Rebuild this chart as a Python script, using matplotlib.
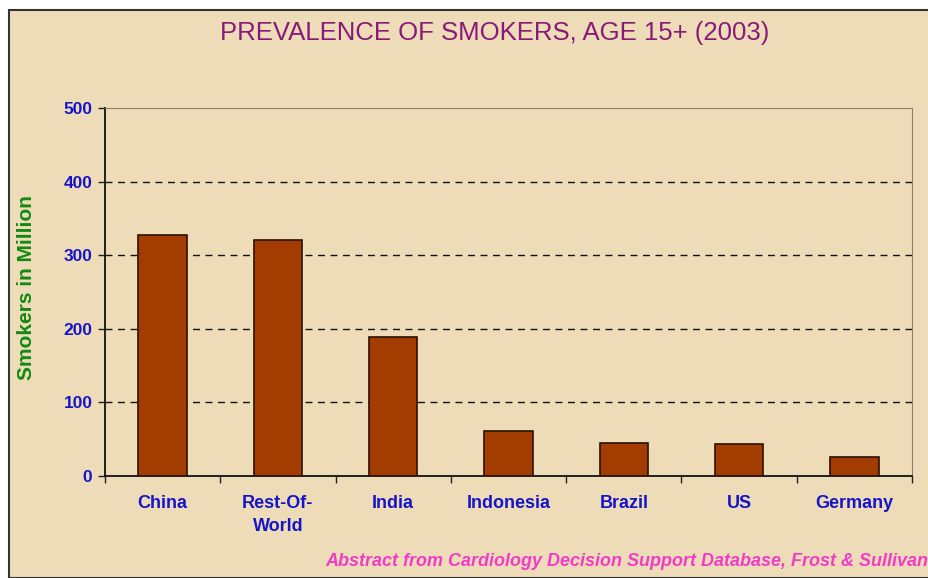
import matplotlib
matplotlib.use("Agg")
import matplotlib.pyplot as plt
from matplotlib.patches import Rectangle

# data
countries = ["China", "Rest-Of-\nWorld", "India", "Indonesia", "Brazil", "US", "Germany"]
smokers = [327, 321, 189, 61, 45, 43, 26]
yticks = [0, 100, 200, 300, 400, 500]

plt.rcParams['font.family'] = ['Liberation Sans', 'DejaVu Sans']

fig = plt.figure(figsize=(9.29, 5.78), dpi=100)
fig.patch.set_facecolor("white")

# parchment background panel with a dark frame
bg = Rectangle((9 / 929, 0), 1.0, 1 - 10 / 578, transform=fig.transFigure,
               facecolor="#eedcb8", edgecolor="#333333", linewidth=1.5, zorder=-10)
fig.patches.append(bg)

ax = fig.add_axes([105 / 929, 1 - 476 / 578, 807 / 929, 368 / 578])
ax.set_facecolor("none")

x = range(len(countries))
ax.bar(x, smokers, width=0.42, color="#a33c00", edgecolor="#2a1200", linewidth=1.2, zorder=3)

ax.set_xlim(-0.5, len(countries) - 0.5)
ax.set_ylim(0, 500)
ax.set_yticks(yticks)
ax.set_yticklabels([str(v) for v in yticks], color="#1515c8", fontweight="bold", fontsize=12.5)

# x ticks sit between the categories, labels at the centres
ax.set_xticks([i + 0.5 for i in range(-1, len(countries))])
ax.set_xticklabels([])
ax.set_xticks(list(x), minor=True)
ax.set_xticklabels(countries, minor=True, color="#1515c8", fontweight="bold", fontsize=13,
                   linespacing=1.45)
ax.tick_params(axis="x", which="minor", length=0, pad=14)
ax.tick_params(axis="x", which="major", length=5, width=1, color="#222222", direction="out")
ax.tick_params(axis="y", length=5, width=1, color="#222222", direction="out", pad=4)

for v in yticks[1:-1]:
    ax.axhline(v, color="#111111", linestyle=(0, (5, 4)), linewidth=1.0, zorder=1)

ax.spines["left"].set_color("#111111")
ax.spines["bottom"].set_color("#111111")
ax.spines["left"].set_linewidth(1.3)
ax.spines["bottom"].set_linewidth(1.3)
ax.spines["top"].set_color("#8a8070")
ax.spines["right"].set_color("#8a8070")
ax.spines["top"].set_linewidth(0.8)
ax.spines["right"].set_linewidth(0.8)

fig.text(495 / 929, 1 - 33 / 578, "PREVALENCE OF SMOKERS, AGE 15+ (2003)",
         ha="center", va="center", color="#8a1a78", fontsize=18.5)
fig.text(27 / 929, 1 - 288 / 578, "Smokers in Million", rotation=90,
         ha="center", va="center", color="#118a11", fontweight="bold", fontsize=15)
fig.text(928 / 929, 1 - 561 / 578, "Abstract from Cardiology Decision Support Database, Frost & Sullivan",
         ha="right", va="center", color="#f23cc8", fontweight="bold", style="italic", fontsize=13)

fig.savefig("out.png", dpi=100)
